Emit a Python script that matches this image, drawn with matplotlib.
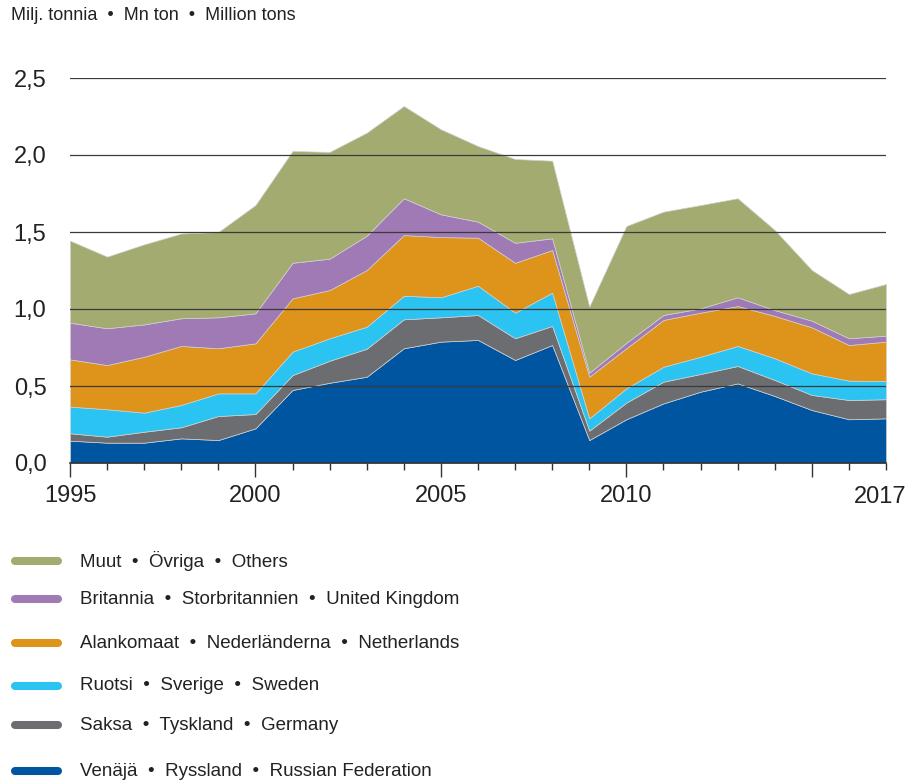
import numpy as np
import matplotlib
matplotlib.use("Agg")
import matplotlib.pyplot as plt
from matplotlib.lines import Line2D
from matplotlib.ticker import FixedLocator, FixedFormatter

plt.rcParams['font.family'] = ['Liberation Sans', 'DejaVu Sans']

years = list(range(1995, 2018))

# million tons, stacked bottom -> top
russia = [0.145, 0.132, 0.132, 0.160, 0.149, 0.225, 0.474, 0.521, 0.560, 0.745, 0.788, 0.799,
          0.669, 0.766, 0.149, 0.284, 0.387, 0.463, 0.517, 0.435, 0.344, 0.284, 0.290]
germany = [0.048, 0.039, 0.071, 0.072, 0.156, 0.093, 0.097, 0.143, 0.182, 0.188, 0.158, 0.162,
           0.141, 0.124, 0.061, 0.108, 0.141, 0.115, 0.113, 0.104, 0.098, 0.125, 0.124]
sweden = [0.173, 0.178, 0.124, 0.145, 0.147, 0.134, 0.152, 0.146, 0.143, 0.153, 0.130, 0.190,
          0.166, 0.216, 0.080, 0.093, 0.097, 0.112, 0.130, 0.141, 0.140, 0.126, 0.118]
netherlands = [0.307, 0.287, 0.363, 0.383, 0.293, 0.325, 0.346, 0.313, 0.368, 0.394, 0.391, 0.312,
               0.324, 0.277, 0.270, 0.260, 0.304, 0.286, 0.259, 0.275, 0.299, 0.231, 0.256]
uk = [0.238, 0.239, 0.210, 0.180, 0.201, 0.195, 0.231, 0.204, 0.223, 0.239, 0.148, 0.104,
      0.130, 0.076, 0.026, 0.036, 0.032, 0.028, 0.057, 0.038, 0.043, 0.044, 0.039]
others = [0.533, 0.465, 0.520, 0.550, 0.554, 0.703, 0.726, 0.693, 0.669, 0.599, 0.552, 0.491,
          0.544, 0.504, 0.429, 0.758, 0.671, 0.671, 0.643, 0.520, 0.329, 0.287, 0.335]

sep = '  \u2022  '
labels = [sep.join(['Venäjä', 'Ryssland', 'Russian Federation']),
          sep.join(['Saksa', 'Tyskland', 'Germany']),
          sep.join(['Ruotsi', 'Sverige', 'Sweden']),
          sep.join(['Alankomaat', 'Nederländerna', 'Netherlands']),
          sep.join(['Britannia', 'Storbritannien', 'United Kingdom']),
          sep.join(['Muut', 'Övriga', 'Others'])]
colors = ['#0055a0', '#6b6d70', '#2bc4f2', '#de931b', '#a07ab4', '#a3ab70']

yticks = [0.0, 0.5, 1.0, 1.5, 2.0, 2.5]
ytick_labels = ['0,0', '0,5', '1,0', '1,5', '2,0', '2,5']
xtick_major = [1995, 2000, 2005, 2010, 2015]
xtick_labels = ['1995', '2000', '2005', '2010', '']
xtick_minor = [y for y in years if y not in xtick_major]

W, H = 909, 782
fig = plt.figure(figsize=(W / 100, H / 100), dpi=100)
ax = fig.add_axes([70 / W, (H - 463) / H, 816 / W, 385 / H])

txt = '#222222'
ax.stackplot(years, russia, germany, sweden, netherlands, uk, others,
             colors=colors, edgecolor='#d0d0d0', linewidth=0.5, zorder=1)

for y in yticks[1:]:
    ax.axhline(y, color='#3a3a3a', lw=0.9, zorder=3)

ax.set_xlim(1995, 2017)
ax.set_ylim(0, 2.5)
ax.set_yticks(yticks)
ax.set_yticklabels(ytick_labels)
ax.tick_params(axis='y', length=0, pad=17, labelsize=17, labelcolor=txt)

ax.xaxis.set_major_locator(FixedLocator(xtick_major))
ax.xaxis.set_major_formatter(FixedFormatter(xtick_labels))
ax.xaxis.set_minor_locator(FixedLocator(xtick_minor))
ax.tick_params(axis='x', which='major', length=10, width=1, color='#333333', pad=6,
               labelsize=17, labelcolor=txt)
ax.tick_params(axis='x', which='minor', length=5, width=1, color='#333333')
# last year label sits a little inside the right edge
ax.annotate('2017', xy=(2017, 0), xycoords=('data', 'axes fraction'),
            xytext=(-6, -23), textcoords='offset pixels', ha='center', va='top',
            fontsize=17, color=txt, annotation_clip=False)

for s in ['top', 'right', 'left']:
    ax.spines[s].set_visible(False)
ax.spines['bottom'].set_color('#333333')
ax.spines['bottom'].set_linewidth(1.2)
ax.spines['bottom'].set_zorder(4)

fig.text(11 / W, 1 - 16 / H, sep.join(['Milj. tonnia', 'Mn ton', 'Million tons']), fontsize=13,
         color=txt, va='center', ha='left')

# legend, top to bottom
leg_y = [561, 599, 643, 686, 725, 771]
for i, yy in enumerate(leg_y):
    k = len(labels) - 1 - i
    fy = 1 - yy / H
    fig.add_artist(Line2D([15 / W, 58 / W], [fy, fy], transform=fig.transFigure,
                          color=colors[k], lw=5.8, solid_capstyle='round'))
    fig.text(80 / W, fy, labels[k], fontsize=13.5, color=txt, va='center', ha='left')

fig.savefig('out.png', dpi=100)
